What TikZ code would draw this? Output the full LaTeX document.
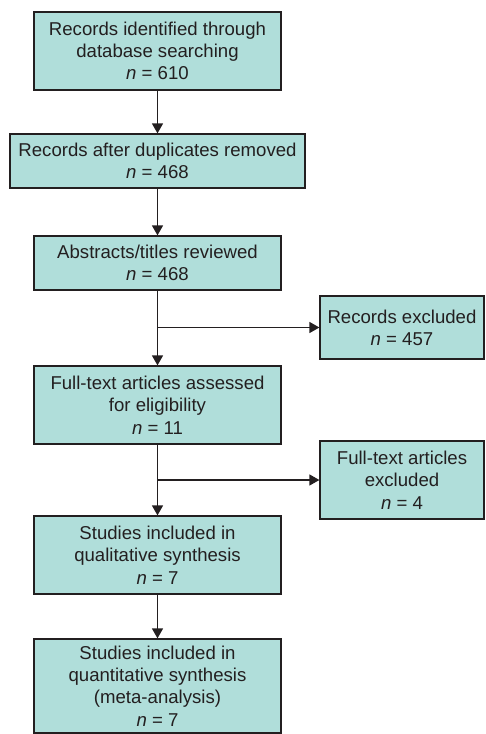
\documentclass[tikz,border=0pt]{standalone}
\usepackage{fontspec}
\setmainfont{Liberation Sans}
\usetikzlibrary{arrows.meta}
\definecolor{boxfill}{HTML}{B0DEDA}
\definecolor{ink}{HTML}{231F20}
\tikzset{
  flowbox/.style={draw=ink, line width=1.2pt, fill=boxfill, align=center, inner sep=0pt,
    text=ink, font=\fontsize{18.6}{22.3}\selectfont},
  arr/.style={draw=ink, line width=1.3pt, -{Triangle[width=11pt,length=10pt]}},
  ln/.style={draw=ink, line width=1.3pt}
}
\newcommand{\nn}{\textit{n}}
\begin{document}
\begin{tikzpicture}[x=1pt,y=-1pt]
\useasboundingbox (0,0) rectangle (485,734);
\node[flowbox, minimum width=247pt, minimum height=78pt] (b1) at (157.5,51)
  {Records identified through\\database searching\\\nn{} = 610};
\node[flowbox, minimum width=295pt, minimum height=54pt] (b2) at (157.5,161)
  {Records after duplicates removed\\\nn{} = 468};
\node[flowbox, minimum width=247pt, minimum height=54pt] (b3) at (157.5,263)
  {Abstracts/titles reviewed\\\nn{} = 468};
\node[flowbox, minimum width=164pt, minimum height=63pt] (e1) at (402,327.5)
  {Records excluded\\\nn{} = 457};
\node[flowbox, minimum width=247pt, minimum height=78pt] (b4) at (157.5,405)
  {Full-text articles assessed\\for eligibility\\\nn{} = 11};
\node[flowbox, minimum width=164pt, minimum height=78pt] (e2) at (402,480)
  {Full-text articles\\excluded\\\nn{} = 4};
\node[flowbox, minimum width=247pt, minimum height=78pt] (b5) at (157.5,555)
  {Studies included in\\qualitative synthesis\\\nn{} = 7};
\node[flowbox, minimum width=247pt, minimum height=94pt] (b6) at (157.5,686)
  {Studies included in\\quantitative synthesis\\(meta-analysis)\\\nn{} = 7};
\coordinate (j1) at (b3.south |- e1.west);
\coordinate (j2) at (b4.south |- e2.west);
\draw[arr] (b1) -- (b2);
\draw[arr] (b2) -- (b3);
\draw[arr] (b3) -- (b4);
\draw[arr] (j1) -- (e1);
\draw[arr] (b4) -- (b5);
\draw[arr] (j2) -- (e2);
\draw[arr] (b5) -- (b6);
\end{tikzpicture}
\end{document}
